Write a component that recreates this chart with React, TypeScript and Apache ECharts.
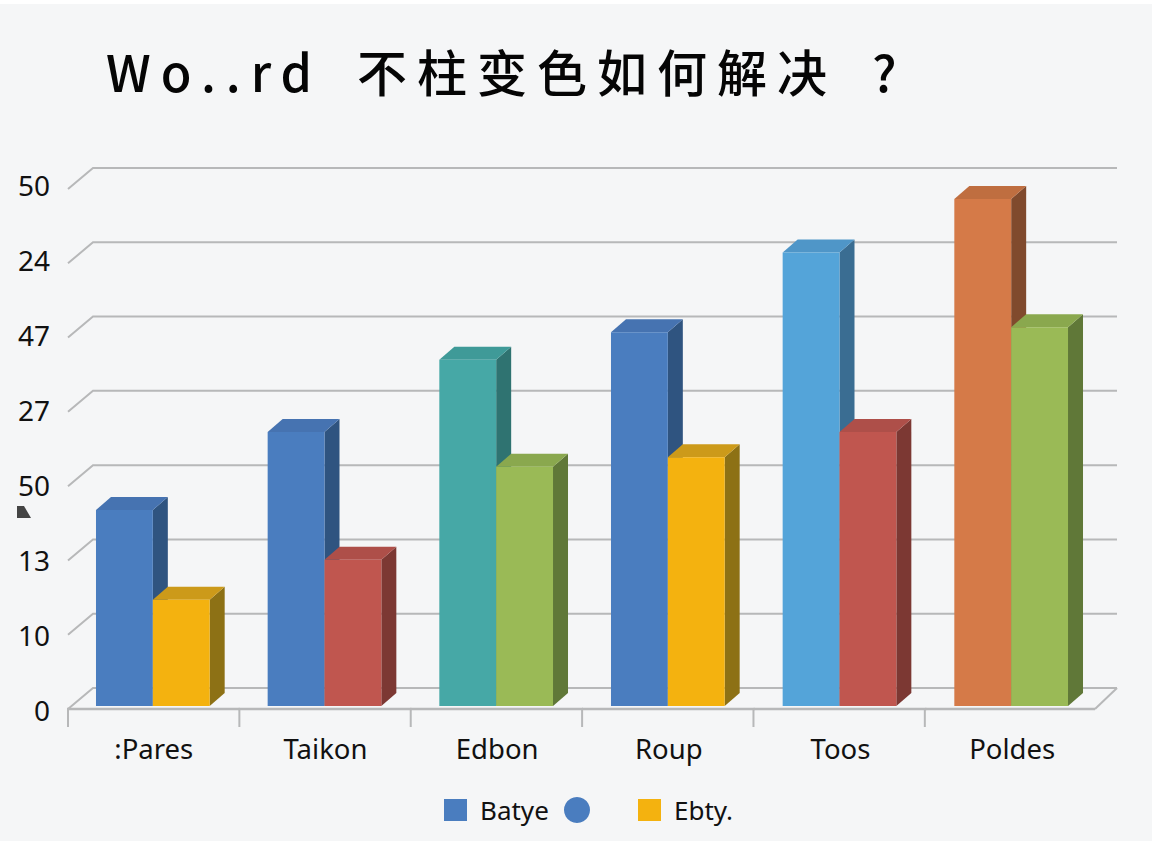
import React, { useEffect, useRef } from "react";
import * as echarts from "echarts";

const titleText = "Wo..rd\u2002不柱变色如何解决\u2002?";
const categories = [":Pares", "Taikon", "Edbon", "Roup", "Toos", "Poldes"];
const yTickLabels = ["0", "10", "13", "50", "27", "47", "24", "50"];
const gridTicks = [0, 1, 2, 3, 4, 5, 6, 7];
const leftValues = [2.68, 3.73, 4.7, 5.07, 6.145, 6.865];
const rightValues = [1.47, 2.01, 3.26, 3.39, 3.73, 5.14];
const leftColors = ["blue", "blue", "teal", "blue", "sky", "orange"];
const rightColors = ["yellow", "red", "green", "yellow", "red", "green"];
const legendNames = ["Batye", "Ebty."];

const palette: Record<string, [string, string, string]> = {
  blue: ["#4a7dbf", "#4673b1", "#2f5480"],
  yellow: ["#f4b20f", "#cc9a1a", "#8d7115"],
  red: ["#c0564f", "#ae4f49", "#7c3833"],
  teal: ["#46a8a6", "#3f9a98", "#2f7371"],
  green: ["#9aba56", "#8aa84e", "#607838"],
  sky: ["#54a4d9", "#4f96c8", "#3a6d92"],
  orange: ["#d57a48", "#bf6e40", "#804a2d"],
};

const GREY = "#b7b8b9";
const TEXT = "#111111";
const FONT = "'Noto Sans', sans-serif";
const AXIS_TRIM = 3;

const barSeries = (values: number[], colors: string[], side: number) => ({
  type: "custom",
  xAxisIndex: 0,
  yAxisIndex: 0,
  z: 5 + side,
  silent: true,
  clip: false,
  data: values.map((v, i) => [i, v]),
  renderItem: (params: any, api: any) => {
    const band = api.size([1, 0])[0];
    const base = api.coord([api.value(0), 0]);
    const top = api.coord([api.value(0), api.value(1)]);
    const w = band / 3.02;
    const x0 = base[0] + (side === 0 ? -w : 0) - 1;
    const x1 = x0 + w;
    const y0 = top[1];
    const y1 = base[1] - 3;
    const dx = 15;
    const dy = 13;
    const [front, upper, flank] = palette[colors[params.dataIndex]];
    const poly = (points: number[][], fill: string) => ({
      type: "polygon",
      shape: { points },
      style: { fill },
    });
    return {
      type: "group",
      children: [
        poly([[x1, y0], [x1 + dx, y0 - dy], [x1 + dx, y1 - dy], [x1, y1]], flank),
        poly([[x0, y0], [x0 + dx, y0 - dy], [x1 + dx, y0 - dy], [x1, y0]], upper),
        poly([[x0, y0], [x1, y0], [x1, y1], [x0, y1]], front),
      ],
    };
  },
});

const wallSeries = {
  type: "custom",
  xAxisIndex: 0,
  yAxisIndex: 0,
  z: 1,
  silent: true,
  clip: false,
  data: gridTicks.map((t) => [0, t]),
  renderItem: (_: any, api: any) => {
    const p = api.coord([0, api.value(1)]);
    const band = api.size([1, 0])[0];
    const x0 = p[0] - band / 2;
    const x1 = x0 + band * 6 - AXIS_TRIM;
    return {
      type: "polyline",
      shape: { points: [[x0, p[1]], [x0 + 25, p[1] - 21], [x1 + 22, p[1] - 21]] },
      style: { stroke: GREY, lineWidth: 2, fill: "none" },
    };
  },
};

const floorSeries = {
  type: "custom",
  xAxisIndex: 0,
  yAxisIndex: 0,
  z: 2,
  silent: true,
  clip: false,
  data: categories.map((_, i) => [i, 0]),
  renderItem: (params: any, api: any) => {
    const p = api.coord([api.value(0), 0]);
    const band = api.size([1, 0])[0];
    const start = p[0] - band / 2;
    const tick = start - params.dataIndex * 0.3;
    const isLast = params.dataIndex === categories.length - 1;
    const end = p[0] + band / 2 - (isLast ? AXIS_TRIM : 0);
    const children: any[] = [
      { type: "line", shape: { x1: tick, y1: p[1], x2: tick, y2: p[1] + 18 }, style: { stroke: GREY, lineWidth: 2 } },
      { type: "line", shape: { x1: start - 1, y1: p[1], x2: end, y2: p[1] }, style: { stroke: GREY, lineWidth: 2.5 } },
    ];
    if (isLast) {
      children.push({
        type: "line",
        shape: { x1: end, y1: p[1], x2: end + 22, y2: p[1] - 21 },
        style: { stroke: GREY, lineWidth: 2 },
      });
    }
    return { type: "group", children };
  },
};

export default function App() {
  const ref = useRef<HTMLDivElement>(null);
  useEffect(() => {
    const chart = echarts.init(ref.current!, null, { renderer: "svg" });
    const label = (text: string, x: number, y: number) => ({
      type: "text",
      x,
      y,
      style: { text, fill: TEXT, font: `26px ${FONT}`, textVerticalAlign: "middle" },
    });
    chart.setOption({
      animation: false,
      backgroundColor: "#ffffff",
      grid: [
        { left: 68, width: 1030, top: 189, bottom: 155 },
        { left: 68, width: 1030, top: 185, bottom: 154 },
      ],
      xAxis: [
        {
          type: "category",
          gridIndex: 0,
          data: categories,
          axisLine: { show: false },
          axisTick: { show: false },
          axisLabel: { color: TEXT, fontFamily: FONT, fontSize: 27.5, margin: 25, interval: 0 },
        },
        { type: "category", gridIndex: 1, data: categories, show: false },
      ],
      yAxis: [
        { type: "value", gridIndex: 0, min: 0, max: 7, interval: 1, show: false },
        {
          type: "value",
          gridIndex: 1,
          min: 0,
          max: 7,
          interval: 1,
          axisLine: { show: false },
          axisTick: { show: false },
          splitLine: { show: false },
          axisLabel: {
            color: TEXT,
            fontFamily: FONT,
            fontSize: 28,
            margin: 18,
            formatter: (v: number) => yTickLabels[v],
          },
        },
      ],
      series: [wallSeries, floorSeries, barSeries(leftValues, leftColors, 0), barSeries(rightValues, rightColors, 1)],
      graphic: [
        { type: "rect", z: -10, shape: { x: 0, y: 4, width: 1152, height: 837 }, style: { fill: "#f5f6f7" } },
        {
          type: "text",
          x: 106,
          y: 70,
          style: {
            text: titleText,
            fill: "#050505",
            font: "500 50px 'Noto Sans CJK SC', sans-serif",
            textVerticalAlign: "middle",
          },
        },
        { type: "polygon", shape: { points: [[17, 518], [17, 506], [24, 506], [31, 518]] }, style: { fill: "#444444" } },
        { type: "rect", shape: { x: 444, y: 799, width: 23, height: 22 }, style: { fill: palette.blue[0] } },
        label(legendNames[0], 480, 810),
        { type: "circle", shape: { cx: 577, cy: 810, r: 13 }, style: { fill: palette.blue[0] } },
        { type: "rect", shape: { x: 638, y: 799, width: 23, height: 22 }, style: { fill: palette.yellow[0] } },
        label(legendNames[1], 674, 810),
      ],
    });
    return () => chart.dispose();
  }, []);
  return (
    <>
      <style>{`svg text[style*="50px"]{letter-spacing:10px}`}</style>
      <div ref={ref} style={{ position: "absolute", left: 0, top: 0, width: 1152, height: 864 }} />
    </>
  );
}
